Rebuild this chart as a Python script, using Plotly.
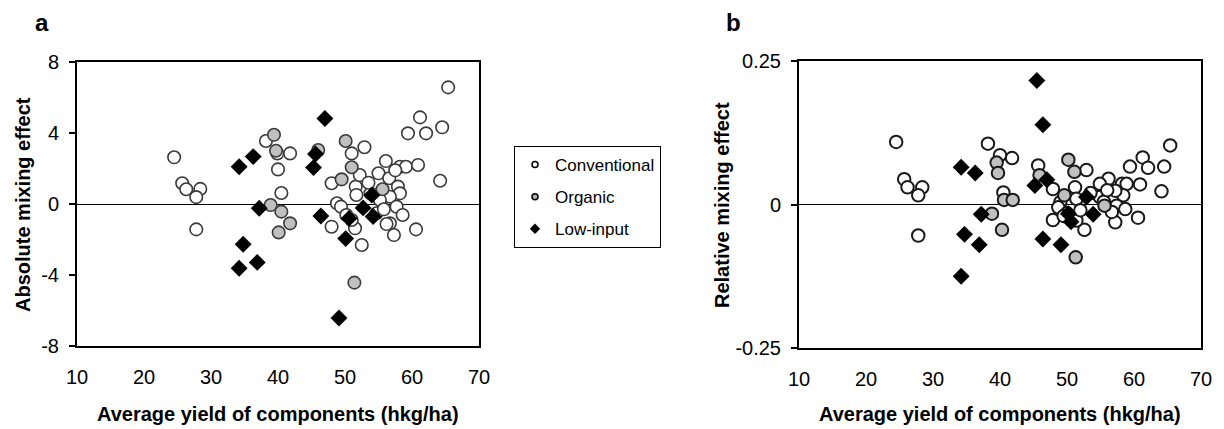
import plotly.graph_objects as go

# ---------------- data: panel a (absolute mixing effect) ----------------
conv_a_x = [24.5, 25.7, 26.3, 28.4, 27.8, 27.8, 38.2, 39.9, 41.8, 40.0, 40.5,
            65.4, 61.2, 59.4, 62.1, 64.5, 64.2, 52.9, 51.0, 48.0, 51.6, 52.2,
            55.0, 56.1, 58.2, 59.1, 60.9, 56.6, 57.9, 58.2, 56.7, 57.7, 58.6,
            56.7, 57.3, 60.6, 48.8, 49.4, 48.0, 50.2, 51.5, 52.5, 54.7, 55.2,
            51.7, 53.8, 55.8, 51.0, 56.2, 53.5, 57.5]
conv_a_y = [2.63, 1.17, 0.83, 0.85, 0.39, -1.43, 3.55, 2.85, 2.85, 1.95, 0.62,
            6.57, 4.88, 3.98, 3.98, 4.32, 1.31, 3.2, 2.85, 1.17, 0.98, 1.63,
            1.73, 2.42, 2.1, 2.1, 2.2, 1.45, 0.98, 0.6, 0.41, -0.15, -0.62,
            -1.09, -1.75, -1.43, 0.04, -0.15, -1.28, -0.62, -1.37, -2.31, -0.52, 0.23,
            0.51, 0.6, -0.3, -0.9, -1.13, 1.2, 1.9]

org_a_x = [39.4, 39.7, 38.9, 40.5, 41.8, 40.1, 46.0, 50.1, 51.0, 49.5, 55.6, 51.4]
org_a_y = [3.9, 3.0, -0.06, -0.43, -1.09, -1.6, 3.04, 3.55, 2.07, 1.39, 0.83, -4.43]

low_a_x = [34.2, 36.3, 37.2, 34.8, 34.2, 36.9, 45.6, 45.3, 46.4, 47.0, 49.1,
           50.1, 50.6, 52.7, 54.0, 54.2]
low_a_y = [2.1, 2.67, -0.24, -2.27, -3.62, -3.29, 2.82, 2.05, -0.68, 4.82, -6.42,
           -1.95, -0.81, -0.22, 0.5, -0.7]

# ---------------- data: panel b (relative mixing effect) ----------------
conv_b_x = [24.5, 25.7, 26.2, 28.4, 27.8, 27.8, 38.2, 40.0, 41.8, 40.5, 45.7,
            52.9, 47.9, 65.4, 61.3, 59.4, 62.1, 64.5, 64.1, 60.6, 57.2, 52.6,
            47.9, 56.2, 54.9, 58.2, 58.9, 60.9, 58.4, 57.4, 58.7, 56.7, 57.2,
            51.2, 49.0, 48.7, 51.4, 54.9, 51.4, 50.0, 53.5, 55.5, 49.5, 56.0, 52.0]
conv_b_y = [0.109, 0.044, 0.030, 0.030, 0.016, -0.054, 0.106, 0.086, 0.081, 0.021, 0.068,
            0.060, 0.027, 0.103, 0.082, 0.066, 0.064, 0.066, 0.023, -0.023, -0.031, -0.044,
            -0.027, 0.045, 0.036, 0.036, 0.036, 0.035, 0.016, -0.002, -0.008, -0.013, 0.024,
            0.030, 0.004, -0.005, -0.028, 0.013, 0.010, -0.015, 0.020, 0.005, -0.020, 0.025, -0.010]

org_b_x = [39.5, 39.7, 38.8, 40.6, 41.9, 40.3, 45.9, 50.2, 51.1, 49.6, 55.6, 51.3]
org_b_y = [0.073, 0.055, -0.016, 0.008, 0.008, -0.044, 0.051, 0.078, 0.057, 0.016, -0.002, -0.092]

low_b_x = [34.2, 36.3, 37.2, 34.7, 36.9, 34.2, 45.5, 46.4, 45.2, 47.0, 46.4,
           49.1, 50.2, 50.6, 52.9, 53.9]
low_b_y = [0.065, 0.055, -0.017, -0.052, -0.070, -0.125, 0.216, 0.139, 0.033, 0.043, -0.060,
           -0.070, -0.016, -0.030, 0.013, -0.017]

series_names = ["Conventional", "Organic", "Low-input"]
x_ticks = [10, 20, 30, 40, 50, 60, 70]
ya_ticks = [-8, -4, 0, 4, 8]
ya_ticktext = ["-8", "-4", "0", "4", "8"]
yb_ticks = [-0.25, 0, 0.25]
yb_ticktext = ["-0.25", "0", "0.25"]

# ---------------- styling ----------------
# the page body has an 8px margin, so the figure starts 8px in from the window edge
OFF = 8
W, H = 1224 - OFF, 429 - OFF
FONT = "Liberation Sans, Arial, sans-serif"

def px_x(p):
    return (p - OFF) / W

def px_y(p):
    return 1 - (p - OFF) / H

conv_style = dict(symbol="circle", size=12.5, color="white",
                  line=dict(color="#3a3a3a", width=1.6))
conv_style_b = dict(symbol="circle", size=12.5, color="white",
                    line=dict(color="#1a1a1a", width=2))
org_style = dict(symbol="circle", size=12.5, color="#c0c0c0",
                 line=dict(color="#3a3a3a", width=1.6))
org_style_b = dict(symbol="circle", size=12.5, color="#c0c0c0",
                   line=dict(color="#1a1a1a", width=2))
low_style = dict(symbol="diamond", size=13, color="black", line=dict(width=0))

fig = go.Figure()

# panel a
fig.add_trace(go.Scatter(x=conv_a_x, y=conv_a_y, mode="markers", marker=conv_style,
                         showlegend=False, xaxis="x", yaxis="y"))
fig.add_trace(go.Scatter(x=org_a_x, y=org_a_y, mode="markers", marker=org_style,
                         showlegend=False, xaxis="x", yaxis="y"))
fig.add_trace(go.Scatter(x=low_a_x, y=low_a_y, mode="markers", marker=low_style,
                         showlegend=False, xaxis="x", yaxis="y"))
# panel b
fig.add_trace(go.Scatter(x=conv_b_x, y=conv_b_y, mode="markers", marker=conv_style_b,
                         showlegend=False, xaxis="x2", yaxis="y2"))
fig.add_trace(go.Scatter(x=org_b_x, y=org_b_y, mode="markers", marker=org_style_b,
                         showlegend=False, xaxis="x2", yaxis="y2"))
fig.add_trace(go.Scatter(x=low_b_x, y=low_b_y, mode="markers", marker=low_style,
                         showlegend=False, xaxis="x2", yaxis="y2"))

# legend entries (small symbols as in the reference)
legend_markers = [
    dict(symbol="circle", size=6, color="white", line=dict(color="black", width=1.5)),
    dict(symbol="circle", size=6, color="#b0b0b0", line=dict(color="black", width=1.5)),
    dict(symbol="diamond", size=8, color="black", line=dict(width=0)),
]
for i, (name, mk) in enumerate(zip(series_names, legend_markers)):
    fig.add_trace(go.Scatter(x=[None], y=[None], mode="markers", name=name, marker=mk,
                             legendgroup=f"g{i}", showlegend=True, xaxis="x", yaxis="y"))

axis_common = dict(showline=True, linecolor="black", linewidth=2, mirror=True,
                   showgrid=False, color="black", automargin=False,
                   tickfont=dict(family=FONT, size=20, color="black"))

fig.update_layout(
    width=W, height=H,
    margin=dict(l=0, r=0, t=0, b=0, autoexpand=False),
    paper_bgcolor="white", plot_bgcolor="white",
    font=dict(family=FONT, color="black"),
    xaxis=dict(domain=[px_x(77), px_x(479)], range=[10, 70], tickvals=x_ticks,
               ticks="", ticklabelstandoff=12, zeroline=False, anchor="y", **axis_common),
    yaxis=dict(domain=[px_y(346), px_y(62)], range=[-8, 8], tickvals=ya_ticks,
               ticktext=ya_ticktext,
               ticks="outside", ticklen=6, tickwidth=1.5, tickcolor="black",
               ticklabelstandoff=6,
               zeroline=True, zerolinecolor="black", zerolinewidth=1, anchor="x",
               **axis_common),
    xaxis2=dict(domain=[px_x(799), px_x(1201)], range=[10, 70], tickvals=x_ticks,
                ticks="", ticklabelstandoff=12, zeroline=False, anchor="y2", **axis_common),
    yaxis2=dict(domain=[px_y(348), px_y(61)], range=[-0.25, 0.25], tickvals=yb_ticks,
                ticktext=yb_ticktext,
                ticks="outside", ticklen=6, tickwidth=1.5, tickcolor="black",
                ticklabelstandoff=6,
                zeroline=True, zerolinecolor="black", zerolinewidth=1, anchor="x2",
                **axis_common),
    legend=dict(x=px_x(514), y=px_y(146), xanchor="left", yanchor="top",
                bordercolor="black", borderwidth=1, bgcolor="white",
                font=dict(family=FONT, size=17, color="black"),
                traceorder="grouped", tracegroupgap=7),
)

annotations = [
    dict(text="<b>a</b>", x=px_x(42), y=px_y(22), font=dict(size=24)),
    dict(text="<b>b</b>", x=px_x(733), y=px_y(22), font=dict(size=24)),
    dict(text="<b>Average yield of components (hkg/ha)</b>", x=px_x(278), y=px_y(414),
         font=dict(size=20)),
    dict(text="<b>Average yield of components (hkg/ha)</b>", x=px_x(1000), y=px_y(414),
         font=dict(size=20)),
    dict(text="<b>Absolute mixing effect</b>", x=px_x(23), y=px_y(205), textangle=-90,
         font=dict(size=20)),
    dict(text="<b>Relative mixing effect</b>", x=px_x(722), y=px_y(205), textangle=-90,
         font=dict(size=20)),
]
for a in annotations:
    a.update(xref="paper", yref="paper", xanchor="center", yanchor="middle",
             showarrow=False)
    a["font"].update(family=FONT, color="black")
    fig.add_annotation(**a)

fig.write_html("out.html")
